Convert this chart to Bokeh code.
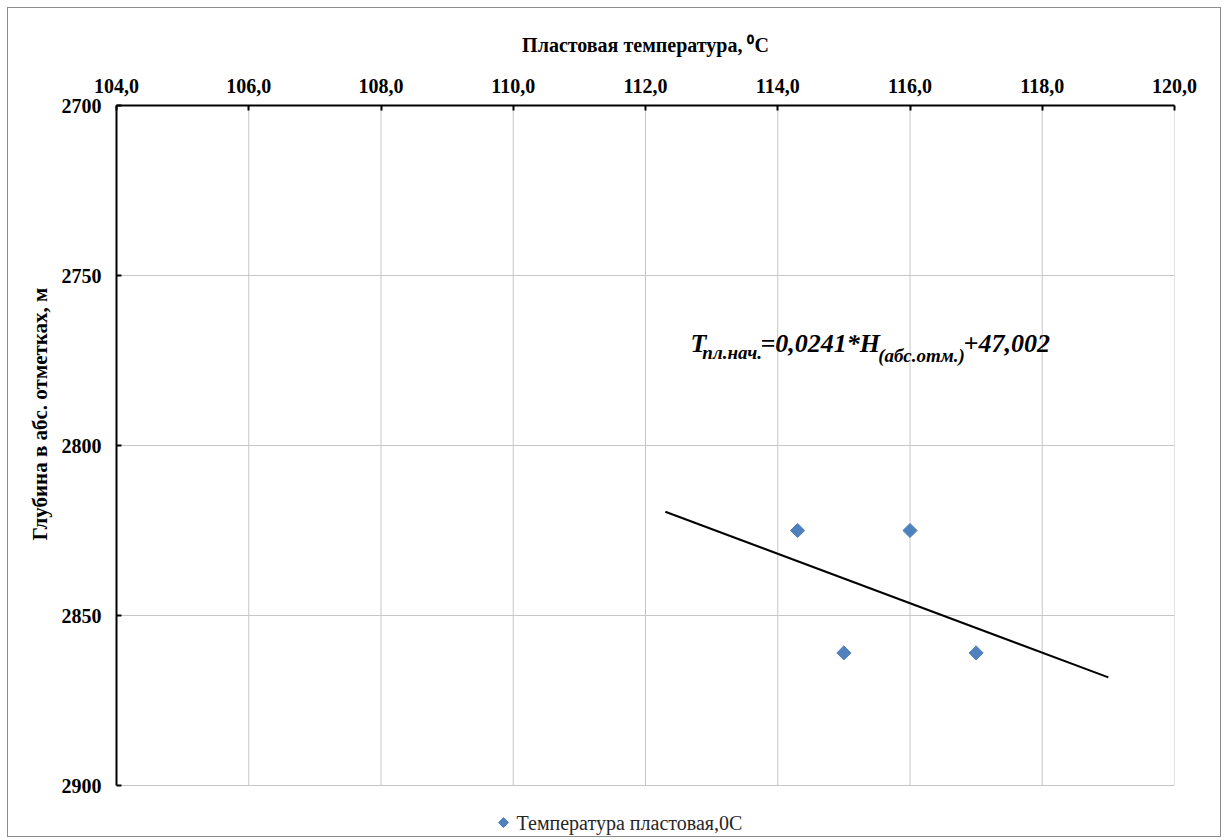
import numpy as np
from bokeh.plotting import figure
from bokeh.models import (Range1d, LinearAxis, FixedTicker, CustomJSTickFormatter,
                          Label, Title, ColumnDataSource)
from bokeh.core.properties import value
from bokeh.embed import file_html
from bokeh.resources import INLINE

# ---- data ----
temp = [114.3, 116.0, 115.0, 117.0]          # Пластовая температура, °C
depth = [2825, 2825, 2861, 2861]             # Глубина в абс. отметках, м
trend_temp = [112.3, 119.0]                  # trend line ends
trend_depth = [2819.5, 2868.2]
x_ticks = [104, 106, 108, 110, 112, 114, 116, 118, 120]
y_ticks = [2700, 2750, 2800, 2850, 2900]
series_name = "Температура пластовая,0С"
x_title = "Пластовая температура, \u2070С"
y_title = "Глубина в абс. отметках, м"

FONT = "Liberation Serif"
BLUE = "#4F81BD"
GRID = "#c6c6c6"

# plot area spans y_ticks; the frame is extended below it to host the legend row
PX_PER_UNIT = 680 / (y_ticks[-1] - y_ticks[0])
y_extra = 53 / PX_PER_UNIT

p = figure(width=1214, height=830, output_backend="svg", toolbar_location=None,
           x_range=Range1d(x_ticks[0], x_ticks[-1]),
           y_range=Range1d(y_ticks[-1] + y_extra, y_ticks[0]),
           x_axis_location=None, y_axis_location=None,
           min_border_left=108, min_border_top=97, min_border_right=48, min_border_bottom=0)
p.styles = {"border": "1px solid #8c8c8c", "margin": "7px 0 0 7px"}
p.outline_line_color = None
p.background_fill_color = "white"
p.border_fill_color = "white"

xa = LinearAxis(ticker=FixedTicker(ticks=x_ticks),
                formatter=CustomJSTickFormatter(code="return tick.toFixed(1).replace('.', ',');"))
ya = LinearAxis(ticker=FixedTicker(ticks=y_ticks), bounds=(y_ticks[0], y_ticks[-1]))
for ax in (xa, ya):
    ax.axis_line_color = "black"
    ax.axis_line_width = 2
    ax.major_tick_line_color = "black"
    ax.major_tick_line_width = 2
    ax.major_tick_in = 5
    ax.major_tick_out = 0
    ax.minor_tick_line_color = None
    ax.major_label_text_font = FONT
    ax.major_label_text_font_style = "bold"
    ax.major_label_text_font_size = "20px"
    ax.major_label_text_color = "black"
    ax.major_label_standoff = 15
xa.major_label_standoff = 13
p.add_layout(xa, "above")
p.add_layout(ya, "left")

p.xgrid.visible = False
p.ygrid.ticker = FixedTicker(ticks=y_ticks)
p.ygrid.grid_line_color = GRID
p.ygrid.grid_line_width = 1
# vertical grid lines limited to the plot area
p.segment(x0=x_ticks, y0=[y_ticks[0]] * len(x_ticks), x1=x_ticks, y1=[y_ticks[-1]] * len(x_ticks),
          line_color=GRID, line_width=1, level="underlay")

tx = Title(text=x_title, align="center", text_font=FONT, text_font_style="bold",
           text_font_size="20px", text_color="black", standoff=40)
p.add_layout(tx, "above")
ty = Title(text=y_title, align="left", text_font=FONT, text_font_style="bold",
           text_font_size="21px", text_color="black", standoff=14, offset=298)
p.add_layout(ty, "left")

# trend line
p.line(trend_temp, trend_depth, line_color="black", line_width=2)

# points
src = ColumnDataSource(dict(x=temp, y=depth))
p.scatter("x", "y", source=src, marker="square", angle=np.pi / 4, size=10,
          fill_color=BLUE, line_color=BLUE)

# equation
big = "26px"
small = "19px"
def eq(text, x, y, size):
    p.add_layout(Label(x=x, y=y, text=text, text_font=FONT, text_font_style="bold italic",
                       text_font_size=size, text_color="black", text_baseline="alphabetic"))
eq("T", 112.68, 2770.0, big)
eq("пл.нач.", 112.86, 2772.6, small)
eq("=0,0241*H", 113.74, 2770.0, big)
eq("(абс.отм.)", 115.52, 2773.5, small)
eq("+47,002", 116.81, 2770.0, big)

# legend row below the plot area
leg_y = 2910.9
p.scatter([109.853], [leg_y], marker="square", angle=np.pi / 4, size=7,
          fill_color=BLUE, line_color=BLUE)
p.text([110.05], [leg_y], text=[series_name], text_font=value(FONT), text_font_size="20px",
       text_color="#262626", text_align="left", text_baseline="middle")

open("out.html", "w").write(file_html(p, INLINE))
